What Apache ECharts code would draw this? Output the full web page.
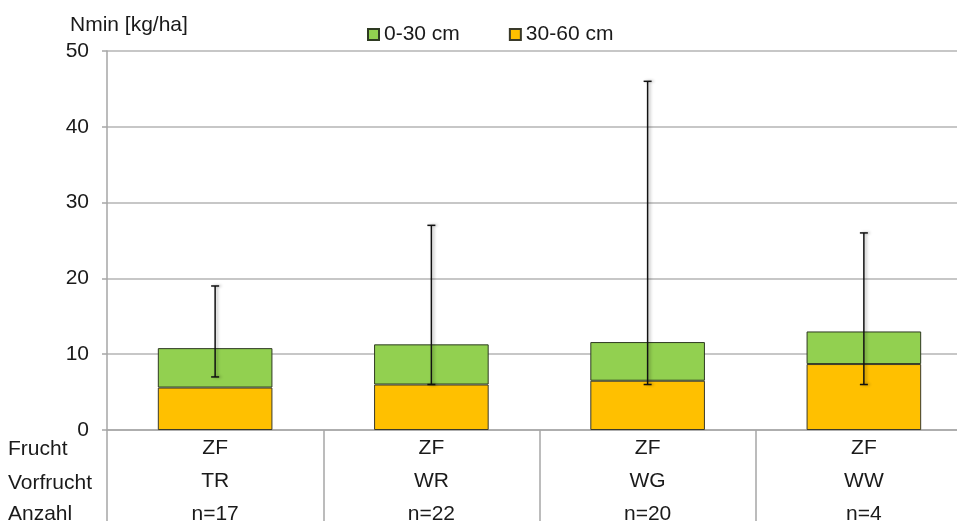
<!DOCTYPE html>
<html>
<head>
<meta charset="utf-8">
<script src="https://cdn.jsdelivr.net/npm/echarts@6/dist/echarts.min.js"></script>
<style>
    html, body { margin: 0; padding: 0; background: #fff; }
    #cn { width: 957px; height: 521px; }
</style>
</head>
<body>
<div id="cn"></div>
<script>
'use strict';

const arrVorfrucht = ['TR', 'WR', 'WG', 'WW'];
const arrFrucht = ['ZF', 'ZF', 'ZF', 'ZF'];
const arrAnzahl = [17, 22, 20, 4];
const arr30_60 = [5.6, 6.0, 6.5, 8.7];   // 30-60 cm (bottom)
const arr0_30 = [5.2, 5.3, 5.1, 4.3];    // 0-30 cm (stacked on top)
const arrErrLow = [7, 6, 6, 6];
const arrErrHigh = [19, 27, 46, 26];
const yTicks = [0, 10, 20, 30, 40, 50];

const FONT = '"Liberation Sans", Arial, sans-serif';
const TXT = '#1a1a1a';
const FS = 21;

const arrLabels = arrVorfrucht.map((v, i) => `${arrFrucht[i]}\n${v}\nn=${arrAnzahl[i]}`);
const errData = arrVorfrucht.map((v, i) => [i, arrErrLow[i], arrErrHigh[i]]);

const chart = echarts.init(document.getElementById('cn'));

const renderErr = (params, api) => {
    const x = api.coord([api.value(0), api.value(1)])[0];
    const yLow = api.coord([api.value(0), api.value(1)])[1];
    const yHigh = api.coord([api.value(0), api.value(2)])[1];
    const cap = 4;
    const style = {
        stroke: '#111',
        lineWidth: 1.5,
        shadowBlur: 3,
        shadowOffsetX: 2,
        shadowColor: 'rgba(0,0,0,0.3)'
    };
    return {
        type: 'group',
        children: [
            { type: 'line', shape: { x1: x, y1: yLow, x2: x, y2: yHigh }, style: style },
            { type: 'line', shape: { x1: x - cap, y1: yHigh, x2: x + cap, y2: yHigh }, style: style },
            { type: 'line', shape: { x1: x - cap, y1: yLow, x2: x + cap, y2: yLow }, style: style }
        ]
    };
};

const option = {
    animation: false,
    textStyle: { fontFamily: FONT },
    grid: {
        left: 107,
        top: 51,
        right: -15,
        bottom: 91,
        outerBoundsMode: 'none',
        containLabel: false
    },
    legend: {
        data: ['0-30 cm', '30-60 cm'],
        left: 367,
        top: 24,
        padding: 0,
        itemWidth: 11,
        itemHeight: 11,
        itemGap: 49,
        icon: 'rect',
        textStyle: { fontSize: FS, color: TXT, fontFamily: FONT }
    },
    xAxis: {
        type: 'category',
        data: arrLabels,
        axisLine: { lineStyle: { color: '#a6a6a6', width: 1.5 } },
        axisTick: { show: true, length: 95, lineStyle: { color: '#a6a6a6', width: 1.5 } },
        axisLabel: {
            fontSize: FS,
            color: TXT,
            lineHeight: 33,
            margin: 2,
            fontFamily: FONT
        }
    },
    yAxis: {
        type: 'value',
        min: 0,
        max: 50,
        interval: 10,
        axisLine: { show: true, lineStyle: { color: '#a6a6a6', width: 1.5 } },
        axisTick: { show: true, length: 5, lineStyle: { color: '#a6a6a6', width: 1.5 } },
        splitLine: { lineStyle: { color: '#b4b4b4', width: 1.5 } },
        axisLabel: {
            fontSize: FS,
            color: TXT,
            margin: 18,
            fontFamily: FONT,
            formatter: v => (yTicks.indexOf(v) >= 0 ? String(v) : '')
        }
    },
    graphic: [
        { type: 'text', left: 70, top: 15, style: { text: 'Nmin [kg/ha]', fontSize: FS, fill: TXT, fontFamily: FONT } },
        { type: 'text', left: 8, top: 439, style: { text: 'Frucht', fontSize: FS, fill: TXT, fontFamily: FONT } },
        { type: 'text', left: 8, top: 473, style: { text: 'Vorfrucht', fontSize: FS, fill: TXT, fontFamily: FONT } },
        { type: 'text', left: 8, top: 504, style: { text: 'Anzahl', fontSize: FS, fill: TXT, fontFamily: FONT } }
    ],
    series: [{
            name: '30-60 cm',
            type: 'bar',
            stack: 'n',
            barWidth: '53%',
            data: arr30_60,
            itemStyle: { color: '#FFC000', borderColor: '#3a3a2a', borderWidth: 1 }
        },
        {
            name: '0-30 cm',
            type: 'bar',
            stack: 'n',
            barWidth: '53%',
            data: arr0_30,
            itemStyle: { color: '#92D050', borderColor: '#2e3a22', borderWidth: 1 }
        },
        {
            name: 'err',
            type: 'custom',
            renderItem: renderErr,
            data: errData,
            z: 10
        }
    ]
};

chart.setOption(option);
</script>
</body>
</html>
